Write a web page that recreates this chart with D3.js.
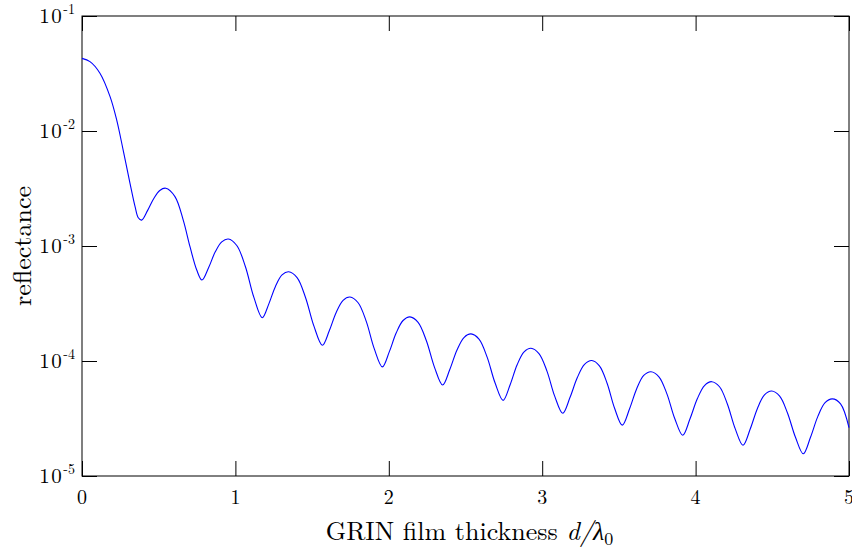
<!DOCTYPE html>
<html>
<head>
<meta charset="utf-8">
<script src="https://cdn.jsdelivr.net/npm/d3@7"></script>
<style>
  html, body { margin: 0; padding: 0; background: #fff; }
  svg { display: block; }
  text { font-family: "Latin Modern Roman", "CMU Serif", "Liberation Serif", serif; fill: #000; }
</style>
</head>
<body>
<svg id="chart" width="852" height="548"></svg>
<script>
// ---- data ----
const thickness = [
  0, 0.052, 0.117, 0.183, 0.226, 0.269, 0.313, 0.346, 0.367, 0.389,
  0.428, 0.468, 0.507, 0.546, 0.606, 0.660, 0.704, 0.748, 0.782,
  0.825, 0.868, 0.911, 0.954, 1.009, 1.065, 1.120, 1.175,
  1.218, 1.261, 1.304, 1.347, 1.402, 1.457, 1.512, 1.567,
  1.612, 1.657, 1.702, 1.747, 1.800, 1.853, 1.905, 1.958,
  2.003, 2.048, 2.093, 2.138, 2.191, 2.245, 2.298, 2.351,
  2.397, 2.444, 2.490, 2.536, 2.588, 2.641, 2.693, 2.745,
  2.791, 2.836, 2.882, 2.927, 2.979, 3.031, 3.082, 3.134,
  3.181, 3.229, 3.276, 3.323, 3.373, 3.423, 3.472, 3.522,
  3.569, 3.616, 3.662, 3.709, 3.761, 3.813, 3.864, 3.916,
  3.963, 4.011, 4.058, 4.105, 4.156, 4.207, 4.258, 4.309,
  4.356, 4.403, 4.449, 4.496, 4.548, 4.599, 4.651, 4.702,
  4.749, 4.797, 4.844, 4.891, 4.945, 5.000];
const reflectance = [
  4.28e-2, 4.01e-2, 3.18e-2, 1.99e-2, 1.25e-2, 6.76e-3, 3.51e-3, 2.20e-3, 1.76e-3, 1.68e-3,
  2.04e-3, 2.59e-3, 3.04e-3, 3.18e-3, 2.69e-3, 1.68e-3, 9.86e-4, 6.18e-4, 5.06e-4,
  6.47e-4, 8.85e-4, 1.086e-3, 1.15e-3, 1.01e-3, 6.64e-4, 3.59e-4, 2.38e-4,
  3.14e-4, 4.45e-4, 5.60e-4, 5.97e-4, 5.31e-4, 3.57e-4, 2.01e-4, 1.37e-4,
  1.83e-4, 2.64e-4, 3.37e-4, 3.60e-4, 3.21e-4, 2.21e-4, 1.28e-4, 8.89e-5,
  1.20e-4, 1.75e-4, 2.25e-4, 2.42e-4, 2.17e-4, 1.50e-4, 8.81e-5, 6.18e-5,
  8.39e-5, 1.24e-4, 1.60e-4, 1.72e-4, 1.55e-4, 1.08e-4, 6.43e-5, 4.55e-5,
  6.22e-5, 9.23e-5, 1.20e-4, 1.29e-4, 1.16e-4, 8.17e-5, 4.92e-5, 3.51e-5,
  4.81e-5, 7.18e-5, 9.35e-5, 1.01e-4, 9.08e-5, 6.41e-5, 3.88e-5, 2.77e-5,
  3.82e-5, 5.74e-5, 7.50e-5, 8.07e-5, 7.29e-5, 5.18e-5, 3.16e-5, 2.26e-5,
  3.13e-5, 4.69e-5, 6.12e-5, 6.61e-5, 5.97e-5, 4.23e-5, 2.58e-5, 1.85e-5,
  2.56e-5, 3.87e-5, 5.08e-5, 5.48e-5, 4.95e-5, 3.53e-5, 2.17e-5, 1.56e-5,
  2.17e-5, 3.30e-5, 4.34e-5, 4.68e-5, 4.24e-5, 2.63e-5];
const xTicks = [0, 1, 2, 3, 4, 5];
const xTickLabels = ["0", "1", "2", "3", "4", "5"];
const yTicks = [1e-1, 1e-2, 1e-3, 1e-4, 1e-5];
const yTickExponents = ["-1", "-2", "-3", "-4", "-5"];
const xLabelText = "GRIN film thickness ";
const yLabelText = "reflectance";

// ---- layout ----
const L = 82, R = 849, T = 16, B = 476;
const svg = d3.select("#chart");
const x = d3.scaleLinear().domain([0, 5]).range([L, R]);
const y = d3.scaleLog().domain([1e-5, 1e-1]).range([B, T]);

// ticks via axes (inward, no labels)
const tick = 15;
svg.append("g").attr("transform", `translate(0,${B})`)
  .call(d3.axisBottom(x).tickValues(xTicks).tickSizeInner(-tick).tickSizeOuter(0).tickFormat(""));
svg.append("g").attr("transform", `translate(0,${T})`)
  .call(d3.axisTop(x).tickValues(xTicks).tickSizeInner(-tick).tickSizeOuter(0).tickFormat(""));
svg.append("g").attr("transform", `translate(${L},0)`)
  .call(d3.axisLeft(y).tickValues(yTicks).tickSizeInner(-tick).tickSizeOuter(0).tickFormat(""));
svg.append("g").attr("transform", `translate(${R},0)`)
  .call(d3.axisRight(y).tickValues(yTicks).tickSizeInner(-tick).tickSizeOuter(0).tickFormat(""));
svg.selectAll(".domain").remove();
svg.selectAll(".tick line").attr("stroke", "#000").attr("stroke-width", 1);

// frame
svg.append("rect").attr("x", L).attr("y", T).attr("width", R - L).attr("height", B - T)
  .attr("fill", "none").attr("stroke", "#000").attr("stroke-width", 1);

// curve
const line = d3.line()
  .x((d, i) => x(thickness[i]))
  .y((d, i) => y(reflectance[i]))
  .curve(d3.curveCatmullRom.alpha(0.5));
svg.append("path").datum(thickness).attr("d", line)
  .attr("fill", "none").attr("stroke", "#0000ff").attr("stroke-width", 1.1);

// x tick labels
svg.append("g").selectAll("text").data(xTicks).join("text")
  .attr("x", d => x(d)).attr("y", B + 28)
  .attr("text-anchor", "middle").attr("font-size", 20)
  .text((d, i) => xTickLabels[i]);

// y tick labels
const yl = svg.append("g").selectAll("text").data(yTicks).join("text")
  .attr("x", 75).attr("y", d => y(d) + 7)
  .attr("text-anchor", "end").attr("font-size", 21);
yl.append("tspan").attr("letter-spacing", 1.5).text("10");
yl.append("tspan").attr("font-size", 14).attr("dy", -9).text((d, i) => yTickExponents[i]);

// x axis label
const xl = svg.append("text").attr("x", (L + R) / 2 + 4).attr("y", 540)
  .attr("text-anchor", "middle").attr("font-size", 26);
xl.append("tspan").text(xLabelText);
xl.append("tspan").attr("font-style", "italic").text("d/λ");
xl.append("tspan").attr("font-size", 18).attr("dy", 5).text("0");

// y axis label
svg.append("text").attr("transform", `translate(31,${(T + B) / 2}) rotate(-90)`)
  .attr("text-anchor", "middle").attr("font-size", 26).text(yLabelText);
</script>
</body>
</html>
